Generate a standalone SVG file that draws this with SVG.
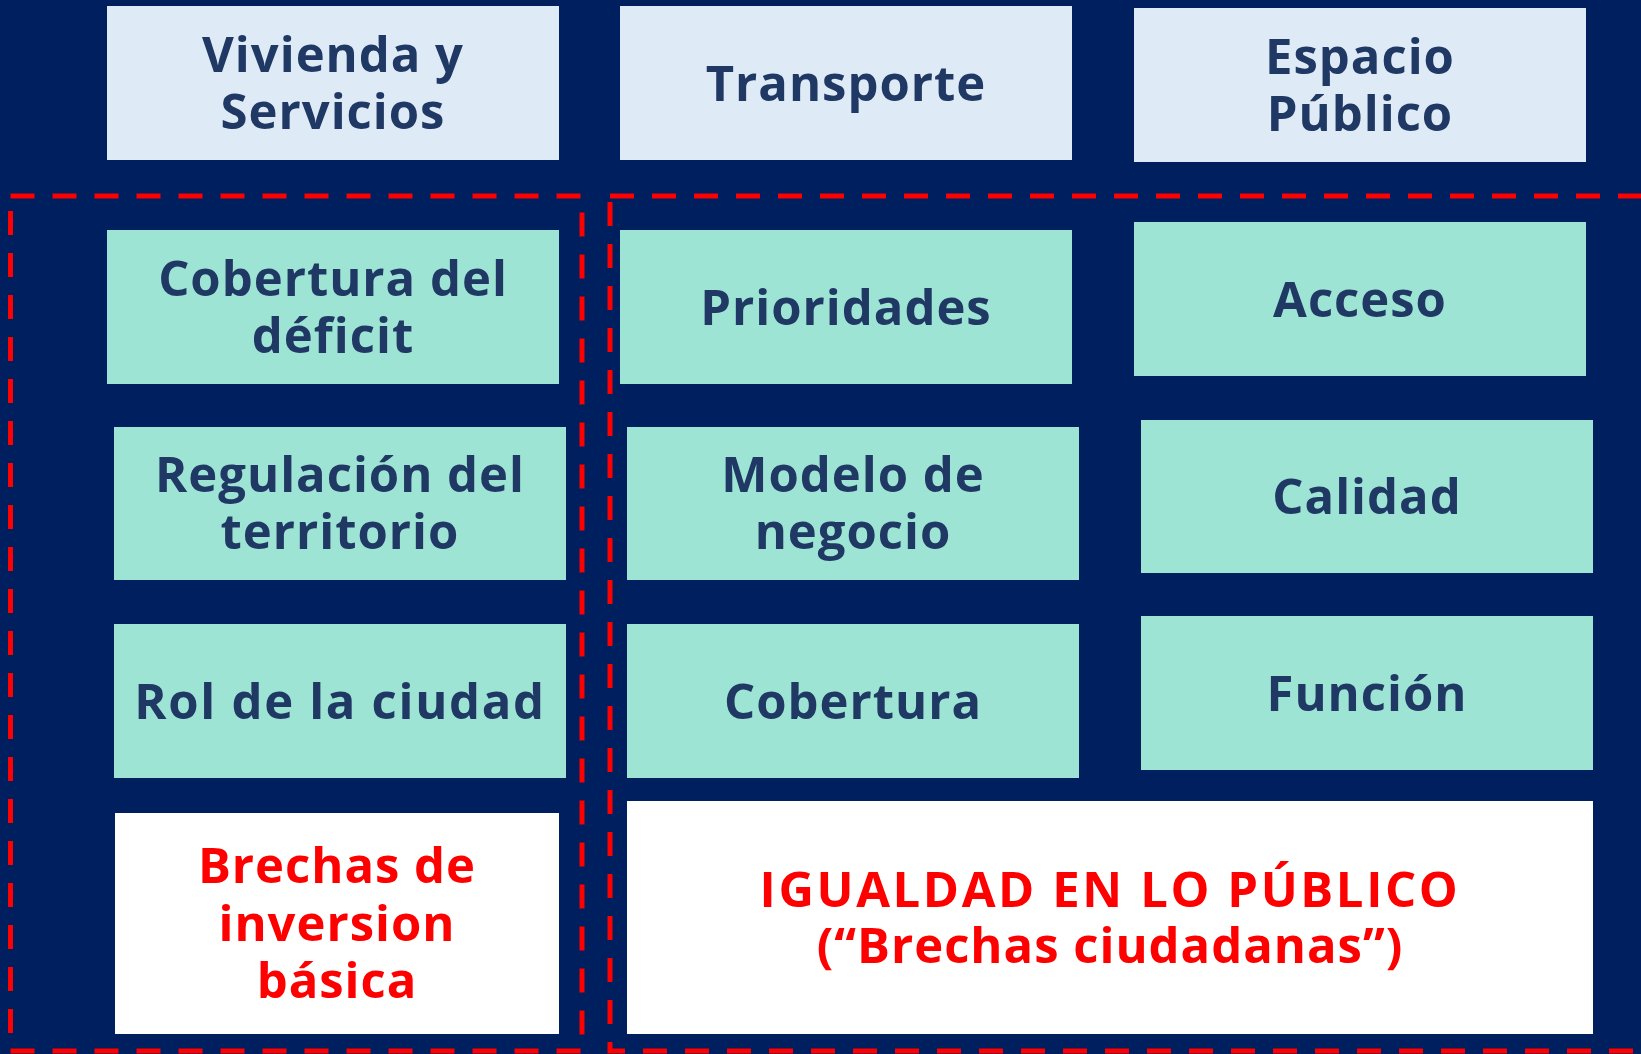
<svg xmlns="http://www.w3.org/2000/svg" width="1641" height="1054" viewBox="0 0 1641 1054">
<style>
.bg{fill:#001F5F}
.top{fill:#DEEAF6}
.mid{fill:#9EE4D4}
.out{fill:#FFFFFF}
.t{font-family:"Open Sans","Liberation Sans",sans-serif;font-weight:700;font-size:49px;letter-spacing:1px;text-anchor:middle;fill:#1F3864}
.r{fill:#FF0000}
.dash{fill:none;stroke:#FF0000;stroke-width:5;stroke-dasharray:24 18}
</style>
<rect class="bg" x="0" y="0" width="1641" height="1054"/>
<g id="frames">
<rect class="dash" x="10.5" y="196" width="571.5" height="855"/>
<rect class="dash" x="610" y="196" width="1050" height="855"/>
</g>
<g id="vivienda"><rect class="top" x="107" y="6" width="452" height="154"/><text class="t" x="333" y="72">Vivienda y<tspan x="333" y="129">Servicios</tspan></text></g>
<g id="transporte"><rect class="top" x="620" y="6" width="452" height="154"/><text class="t" x="846" y="100.5">Transporte</text></g>
<g id="espacio"><rect class="top" x="1134" y="8" width="452" height="154"/><text class="t" x="1360" y="74">Espacio<tspan x="1360" y="131">Público</tspan></text></g>
<g id="cobertura-deficit"><rect class="mid" x="107" y="230" width="452" height="154"/><text class="t" x="333" y="296">Cobertura del<tspan x="333" y="353">déficit</tspan></text></g>
<g id="prioridades"><rect class="mid" x="620" y="230" width="452" height="154"/><text class="t" x="846" y="324.5">Prioridades</text></g>
<g id="acceso"><rect class="mid" x="1134" y="222" width="452" height="154"/><text class="t" x="1360" y="316.5">Acceso</text></g>
<g id="regulacion"><rect class="mid" x="114" y="427" width="452" height="153"/><text class="t" x="340" y="492">Regulación del<tspan x="340" y="549">territorio</tspan></text></g>
<g id="modelo"><rect class="mid" x="627" y="427" width="452" height="153"/><text class="t" x="853" y="492">Modelo de<tspan x="853" y="549">negocio</tspan></text></g>
<g id="calidad"><rect class="mid" x="1141" y="420" width="452" height="153"/><text class="t" x="1367" y="514">Calidad</text></g>
<g id="rol"><rect class="mid" x="114" y="624" width="452" height="154"/><text class="t" x="340" y="718.5" style="letter-spacing:1.7px">Rol de la ciudad</text></g>
<g id="cobertura"><rect class="mid" x="627" y="624" width="452" height="154"/><text class="t" x="853" y="718.5">Cobertura</text></g>
<g id="funcion"><rect class="mid" x="1141" y="616" width="452" height="154"/><text class="t" x="1367" y="710.5">Función</text></g>
<g id="brechas"><rect class="out" x="115" y="813" width="444" height="221"/><text class="t r" x="337" y="883">Brechas de<tspan x="337" y="941">inversion</tspan><tspan x="337" y="998">básica</tspan></text></g>
<g id="igualdad"><rect class="out" x="627" y="801" width="966" height="233"/><text class="t r" x="1110" y="907" style="letter-spacing:2.6px">IGUALDAD EN LO PÚBLICO</text><text class="t r" x="1110" y="963">(“Brechas ciudadanas”)</text></g>
</svg>
